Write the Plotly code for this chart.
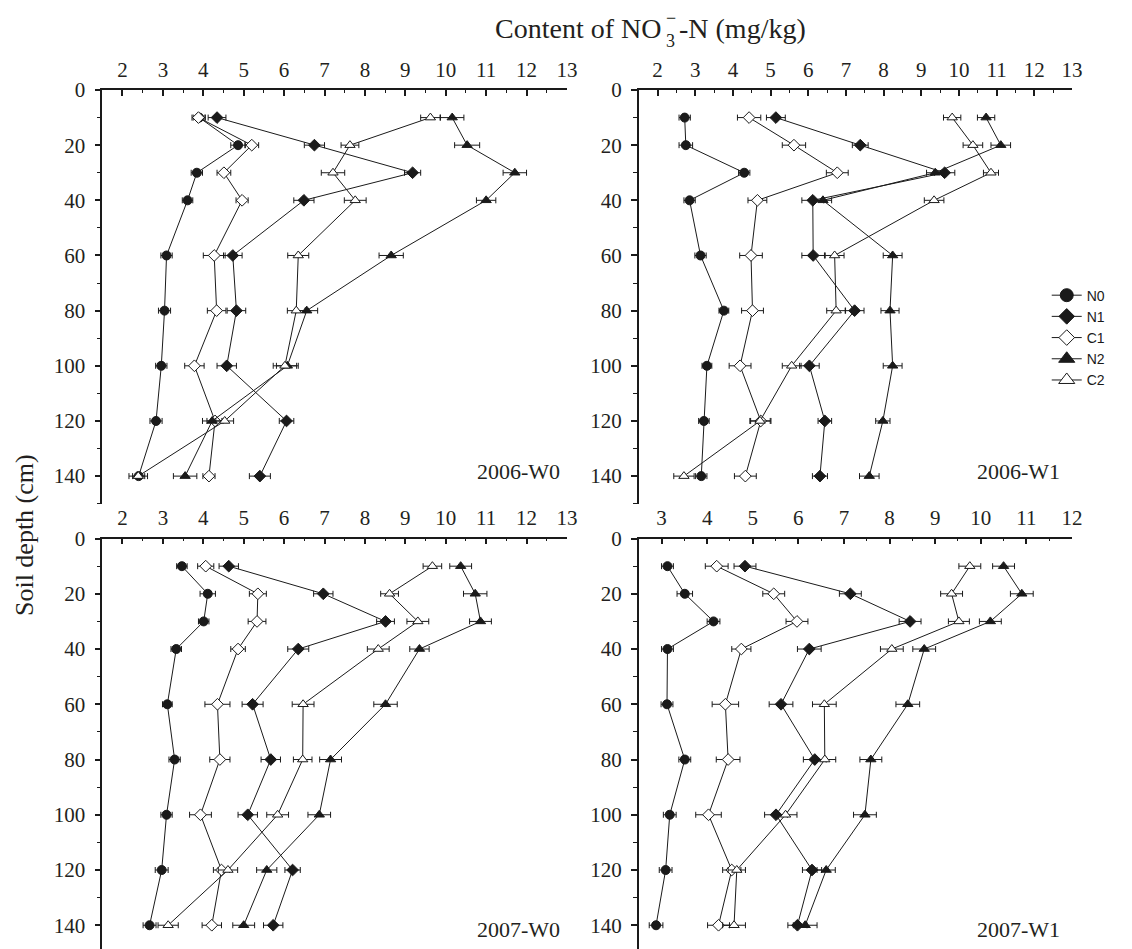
import plotly.graph_objects as go

W, H = 1132, 949

depth = [10, 20, 30, 40, 60, 80, 100, 120, 140]
series = ["N0", "N1", "C1", "N2", "C2"]
panel_labels = ["2006-W0", "2006-W1", "2007-W0", "2007-W1"]
depth_ticks = [0, 20, 40, 60, 80, 100, 120, 140]

# ---- 2006-W0 ----
a_N0 = [3.90, 4.86, 3.84, 3.61, 3.09, 3.04, 2.96, 2.83, 2.40]
a_N0e = [0.15, 0.18, 0.14, 0.13, 0.14, 0.15, 0.14, 0.15, 0.15]
a_N1 = [4.34, 6.75, 9.18, 6.49, 4.73, 4.82, 4.58, 6.06, 5.40]
a_N1e = [0.22, 0.25, 0.20, 0.25, 0.23, 0.23, 0.24, 0.18, 0.26]
a_C1 = [3.88, 5.20, 4.51, 4.96, 4.27, 4.33, 3.78, 4.29, 4.14]
a_C1e = [0.16, 0.17, 0.17, 0.15, 0.27, 0.23, 0.24, 0.20, 0.15]
a_N2 = [10.16, 10.53, 11.71, 11.00, 8.65, 6.56, 6.08, 4.22, 3.55]
a_N2e = [0.29, 0.31, 0.29, 0.24, 0.30, 0.27, 0.27, 0.24, 0.29]
a_C2 = [9.62, 7.63, 7.21, 7.76, 6.35, 6.30, 6.02, 4.53, 2.39]
a_C2e = [0.24, 0.22, 0.29, 0.27, 0.26, 0.22, 0.29, 0.22, 0.23]

# ---- 2006-W1 ----
b_N0 = [2.72, 2.75, 4.30, 2.85, 3.14, 3.76, 3.31, 3.23, 3.16]
b_N0e = [0.15, 0.18, 0.15, 0.15, 0.15, 0.13, 0.13, 0.14, 0.15]
b_N1 = [5.14, 7.38, 9.62, 6.12, 6.13, 7.23, 6.03, 6.44, 6.31]
b_N1e = [0.25, 0.21, 0.27, 0.29, 0.30, 0.25, 0.26, 0.18, 0.20]
b_C1 = [4.43, 5.62, 6.77, 4.65, 4.48, 4.52, 4.19, 4.74, 4.33]
b_C1e = [0.31, 0.31, 0.29, 0.25, 0.30, 0.29, 0.29, 0.27, 0.29]
b_N2 = [10.72, 11.11, 9.37, 6.39, 8.24, 8.17, 8.24, 7.98, 7.62]
b_N2e = [0.23, 0.26, 0.23, 0.23, 0.25, 0.24, 0.25, 0.19, 0.26]
b_C2 = [9.82, 10.37, 10.85, 9.34, 6.70, 6.74, 5.56, 4.72, 2.70]
b_C2e = [0.23, 0.26, 0.20, 0.26, 0.25, 0.25, 0.25, 0.27, 0.27]

# ---- 2007-W0 ----
c_N0 = [3.47, 4.11, 4.01, 3.33, 3.11, 3.29, 3.09, 2.97, 2.67]
c_N0e = [0.13, 0.19, 0.13, 0.13, 0.12, 0.14, 0.14, 0.16, 0.16]
c_N1 = [4.63, 6.97, 8.51, 6.35, 5.22, 5.67, 5.10, 6.21, 5.73]
c_N1e = [0.24, 0.24, 0.22, 0.26, 0.26, 0.24, 0.24, 0.19, 0.24]
c_C1 = [4.06, 5.35, 5.33, 4.86, 4.35, 4.41, 3.93, 4.45, 4.21]
c_C1e = [0.20, 0.21, 0.22, 0.18, 0.31, 0.25, 0.27, 0.20, 0.24]
c_N2 = [10.37, 10.73, 10.86, 9.35, 8.51, 7.15, 6.87, 5.57, 5.00]
c_N2e = [0.27, 0.29, 0.27, 0.24, 0.29, 0.27, 0.28, 0.25, 0.27]
c_C2 = [9.67, 8.61, 9.31, 8.33, 6.47, 6.46, 5.84, 4.61, 3.13]
c_C2e = [0.23, 0.22, 0.27, 0.27, 0.27, 0.23, 0.27, 0.24, 0.25]

# ---- 2007-W1 ----
d_N0 = [3.13, 3.51, 4.14, 3.13, 3.12, 3.51, 3.18, 3.09, 2.88]
d_N0e = [0.13, 0.17, 0.14, 0.13, 0.13, 0.13, 0.14, 0.14, 0.15]
d_N1 = [4.83, 7.14, 8.45, 6.24, 5.62, 6.36, 5.51, 6.30, 5.98]
d_N1e = [0.24, 0.24, 0.24, 0.26, 0.26, 0.25, 0.25, 0.21, 0.21]
d_C1 = [4.21, 5.46, 5.97, 4.75, 4.40, 4.46, 4.03, 4.54, 4.25]
d_C1e = [0.25, 0.24, 0.24, 0.21, 0.29, 0.26, 0.28, 0.20, 0.24]
d_N2 = [10.50, 10.90, 10.21, 8.76, 8.40, 7.59, 7.46, 6.61, 6.15]
d_N2e = [0.24, 0.25, 0.24, 0.25, 0.26, 0.24, 0.25, 0.20, 0.26]
d_C2 = [9.76, 9.36, 9.52, 8.05, 6.57, 6.58, 5.72, 4.65, 4.59]
d_C2e = [0.24, 0.24, 0.23, 0.25, 0.26, 0.24, 0.25, 0.19, 0.25]

panels = [
    [(a_N0, a_N0e), (a_N1, a_N1e), (a_C1, a_C1e), (a_N2, a_N2e), (a_C2, a_C2e)],
    [(b_N0, b_N0e), (b_N1, b_N1e), (b_C1, b_C1e), (b_N2, b_N2e), (b_C2, b_C2e)],
    [(c_N0, c_N0e), (c_N1, c_N1e), (c_C1, c_C1e), (c_N2, c_N2e), (c_C2, c_C2e)],
    [(d_N0, d_N0e), (d_N1, d_N1e), (d_C1, d_C1e), (d_N2, d_N2e), (d_C2, d_C2e)],
]

BLACK = "#1a1a1a"
styles = {
    "N0": dict(symbol="circle", color=BLACK, size=9),
    "N1": dict(symbol="diamond", color=BLACK, size=9),
    "C1": dict(symbol="diamond", color="white", size=9),
    "N2": dict(symbol="triangle-up", color=BLACK, size=9),
    "C2": dict(symbol="triangle-up", color="white", size=9),
}
legend_sizes = {"N0": 13, "N1": 12, "C1": 12, "N2": 14, "C2": 14}

fig = go.Figure()

for p, pdata in enumerate(panels):
    suffix = "" if p == 0 else str(p + 1)
    for name, (vals, errs) in zip(series, pdata):
        st = styles[name]
        fig.add_trace(go.Scatter(
            x=vals, y=depth, mode="lines+markers", name=name, showlegend=False,
            xaxis="x" + suffix, yaxis="y" + suffix,
            line=dict(color=BLACK, width=1),
            marker=dict(symbol=st["symbol"], size=st["size"], color=st["color"],
                        line=dict(color=BLACK, width=1)),
            error_x=dict(type="data", array=errs, visible=True, color=BLACK,
                         thickness=1, width=3),
        ))

# legend entries (drawn in panel 2006-W1)
for name in series:
    st = styles[name]
    fig.add_trace(go.Scatter(
        x=[None], y=[None], mode="lines+markers", name=name, showlegend=True,
        xaxis="x2", yaxis="y2",
        line=dict(color=BLACK, width=1),
        marker=dict(symbol=st["symbol"], size=legend_sizes[name], color=st["color"],
                    line=dict(color=BLACK, width=1)),
    ))

def px_x(v):
    return v / W

def px_y(v):
    return 1 - v / H

SERIF = "Liberation Serif"
TXT = "#231f20"
TICKFONT = dict(family=SERIF, size=21, color=TXT)

xdom_left = [px_x(103.3), px_x(572.5)]
xdom_right = [px_x(645), px_x(1082.5)]
ydom_top = [px_y(498), px_y(79)]
ydom_bot = [0, px_y(533.3)]

xranges = [[1.5, 13], [1.5, 13], [1.5, 13], [2.5, 12]]
yranges = [[150, 0], [150, 0], [148.6, 0], [148.6, 0]]
xdoms = [xdom_left, xdom_right, xdom_left, xdom_right]
ydoms = [ydom_top, ydom_top, ydom_bot, ydom_bot]

layout_axes = {}
for p in range(4):
    suffix = "" if p == 0 else str(p + 1)
    layout_axes["xaxis" + suffix] = dict(
        domain=xdoms[p], range=xranges[p], side="top", anchor="y" + suffix,
        showline=True, linecolor=BLACK, linewidth=1.5, showgrid=False, zeroline=False,
        ticks="inside", ticklen=6, tickwidth=1.5, tickcolor=BLACK, dtick=1, tick0=0,
        minor=dict(ticks="inside", ticklen=3, dtick=0.5, tickcolor=BLACK, tickwidth=1.2),
        tickfont=TICKFONT, ticklabelstandoff=3,
    )
    layout_axes["yaxis" + suffix] = dict(
        domain=ydoms[p], range=yranges[p], anchor="x" + suffix,
        showline=True, linecolor=BLACK, linewidth=1.5, showgrid=False, zeroline=False,
        ticks="outside", ticklen=6, tickwidth=1.5, tickcolor=BLACK,
        tickmode="array", tickvals=depth_ticks,
        minor=dict(ticks="outside", ticklen=4, dtick=10, tickcolor=BLACK, tickwidth=1.2),
        tickfont=TICKFONT, ticklabelstandoff=5,
    )

annotations = []
label_pos = [(568, 465), (1072, 465), (568, 929), (1072, 929)]
for lab, (lx, ly) in zip(panel_labels, label_pos):
    annotations.append(dict(
        text=lab, x=px_x(lx), y=px_y(ly), xref="paper", yref="paper",
        xanchor="right", yanchor="middle", showarrow=False,
        font=dict(family=SERIF, size=22, color=TXT),
    ))

# x title with stacked sub/superscript
annotations += [
    dict(text="Content of NO", x=px_x(670), y=px_y(17), xref="paper", yref="paper",
         xanchor="right", yanchor="middle", showarrow=False,
         font=dict(family=SERIF, size=28, color=TXT)),
    dict(text="\u2212", x=px_x(671), y=px_y(6), xref="paper", yref="paper",
         xanchor="left", yanchor="middle", showarrow=False,
         font=dict(family=SERIF, size=18, color=TXT)),
    dict(text="3", x=px_x(671), y=px_y(29), xref="paper", yref="paper",
         xanchor="left", yanchor="middle", showarrow=False,
         font=dict(family=SERIF, size=18, color=TXT)),
    dict(text="-N (mg/kg)", x=px_x(684), y=px_y(17), xref="paper", yref="paper",
         xanchor="left", yanchor="middle", showarrow=False,
         font=dict(family=SERIF, size=28, color=TXT)),
    dict(text="Soil depth (cm)", x=px_x(25), y=px_y(530), xref="paper", yref="paper",
         xanchor="center", yanchor="middle", showarrow=False, textangle=-90,
         font=dict(family=SERIF, size=26, color=TXT)),
]

fig.update_layout(
    width=W, height=H,
    font=dict(family=SERIF, size=21, color=TXT),
    margin=dict(l=0, r=0, t=0, b=0, pad=0),
    paper_bgcolor="white", plot_bgcolor="white",
    showlegend=True,
    legend=dict(x=px_x(1057), y=px_y(271), xanchor="left", yanchor="top",
                bgcolor="rgba(0,0,0,0)", borderwidth=0,
                font=dict(family="Liberation Sans", size=14, color=BLACK),
                tracegroupgap=0, itemsizing="trace"),
    annotations=annotations,
    **layout_axes,
)

fig.write_html("out.html")
